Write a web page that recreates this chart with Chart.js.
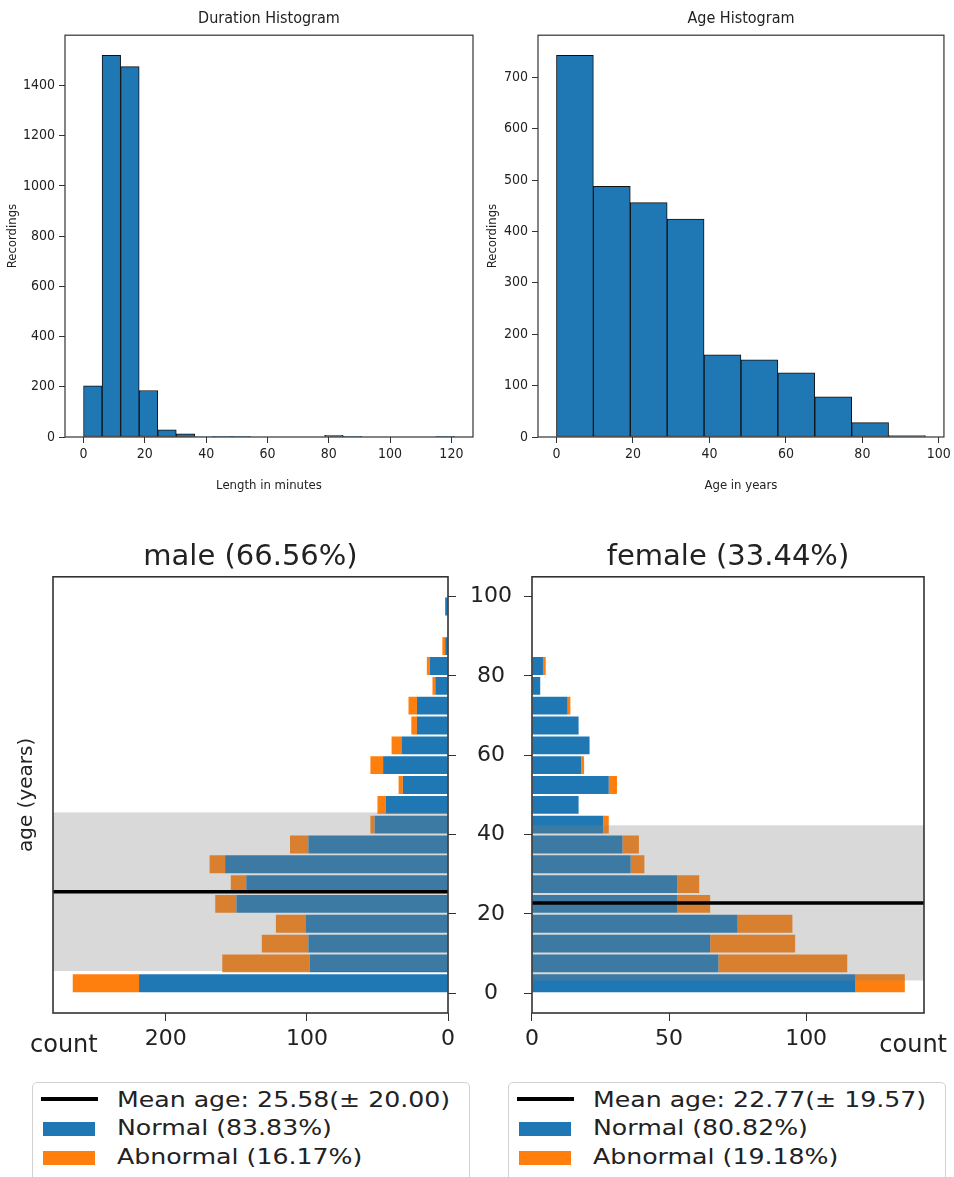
<!DOCTYPE html>
<html>
<head>
<meta charset="utf-8">
<script src="https://cdn.jsdelivr.net/npm/chart.js@4.4.1/dist/chart.umd.min.js"></script>
<style>
  html, body { margin: 0; padding: 0; background: #fff; }
  body { width: 954px; height: 1177px; position: relative; overflow: hidden; font-family: 'DejaVu Sans', sans-serif; }
  canvas { position: absolute; }
  .legend { position: absolute; top: 1082px; width: 438px; height: 110px; border: 1px solid #d2d2d2; border-radius: 5px; box-sizing: border-box; background: #fff; }
  .legend .sw { position: absolute; }
  .legend .sw.line { left: 8px; top: 14px; width: 57px; height: 4px; background: #000; }
  .legend .sw.normal { left: 10px; top: 39px; width: 52px; height: 14px; background: #1f77b4; }
  .legend .sw.abnormal { left: 10px; top: 68px; width: 52px; height: 14px; background: #ff7f0e; }
  .legend .txt { position: absolute; left: 84px; height: 26px; line-height: 26px; font-size: 21px; color: #222; white-space: nowrap; transform: scaleX(1.2); transform-origin: left center; }
</style>
</head>
<body>
<canvas id="durationChart" width="480" height="500" style="left:0px; top:0px"></canvas>
<canvas id="ageChart" width="474" height="500" style="left:480px; top:0px"></canvas>
<canvas id="maleChart" width="520" height="545" style="left:0px; top:530px"></canvas>
<canvas id="femaleChart" width="434" height="545" style="left:520px; top:530px"></canvas>
<div class="legend" id="maleLegend" style="left:32px"></div>
<div class="legend" id="femaleLegend" style="left:508px"></div>

<script>
// Histograma de duração (minutos) - borda esquerda de cada bin
const durationEdges = [0, 6.05, 12.1, 18.15, 24.2, 30.25, 36.3, 42.35, 48.4, 54.45, 60.5, 66.55, 72.6, 78.65, 84.7, 90.75, 96.8, 102.85, 108.9, 114.95];
const durationCounts = [204, 1520, 1475, 185, 29, 13, 2, 1, 1, 0, 0, 0, 0, 7, 1, 0, 0, 0, 0, 1];
const durationBinWidth = 6.05;
const durationXTicks = [0, 20, 40, 60, 80, 100, 120];
const durationYTicks = [0, 200, 400, 600, 800, 1000, 1200, 1400];

// Histograma de idade (anos)
const ageEdges = [0, 9.65, 19.3, 28.95, 38.6, 48.25, 57.9, 67.55, 77.2, 86.85];
const ageCounts = [743, 488, 456, 424, 160, 150, 125, 78, 28, 3];
const ageBinWidth = 9.65;
const ageXTicks = [0, 20, 40, 60, 80, 100];
const ageYTicks = [0, 100, 200, 300, 400, 500, 600, 700];

// Pirâmide etária: centro de cada faixa de 5 anos
const ageBands = [2.5, 7.5, 12.5, 17.5, 22.5, 27.5, 32.5, 37.5, 42.5, 47.5, 52.5, 57.5, 62.5, 67.5, 72.5, 77.5, 82.5, 87.5, 92.5, 97.5];
const maleNormal = [219, 98, 99, 101, 150, 143, 158, 99, 52, 44, 32, 46, 33, 22, 22, 9, 13, 2, 0, 2];
const maleAbnormal = [47, 62, 33, 21, 15, 11, 11, 13, 3, 6, 3, 9, 7, 4, 6, 2, 2, 2, 0, 0];
const femaleNormal = [118, 68, 65, 75, 53, 53, 36, 33, 26, 17, 28, 18, 21, 17, 13, 3, 4, 0, 0, 0];
const femaleAbnormal = [18, 47, 31, 20, 12, 8, 5, 6, 2, 0, 3, 1, 0, 0, 1, 0, 1, 0, 0, 0];
const pyramidYTicks = [0, 20, 40, 60, 80, 100];
const maleXTicks = [0, 100, 200];
const femaleXTicks = [0, 50, 100];

const maleStats = { mean: 25.58, std: 20.00 };
const femaleStats = { mean: 22.77, std: 19.57 };
const maleLegendLabels = ['Mean age: 25.58(± 20.00)', 'Normal (83.83%)', 'Abnormal (16.17%)'];
const femaleLegendLabels = ['Mean age: 22.77(± 19.57)', 'Normal (80.82%)', 'Abnormal (19.18%)'];

const BLUE = '#1f77b4';
const ORANGE = '#ff7f0e';
const INK = '#222';
const narrowFont = "'DejaVu Sans Condensed', 'Liberation Sans Narrow', 'DejaVu Sans', sans-serif";
const wideFont = "'DejaVu Sans', sans-serif";

Chart.defaults.animation = false;
Chart.defaults.color = INK;

// Moldura completa (as 4 bordas do eixo, estilo matplotlib)
const frame = {
    id: 'frame',
    afterDraw(chart, args, opts) {
        const a = chart.chartArea;
        const ctx = chart.ctx;
        ctx.save();
        ctx.strokeStyle = opts.color || '#333';
        ctx.lineWidth = opts.width || 1.2;
        ctx.strokeRect(a.left, a.top, a.right - a.left, a.bottom - a.top);
        ctx.restore();
    }
};

// Faixa de média ± desvio e linha da média
const meanBand = {
    id: 'meanBand',
    afterDatasetsDraw(chart, args, opts) {
        const { ctx, chartArea: a } = chart;
        const y = chart.scales.y;
        const top = y.getPixelForValue(opts.mean + opts.std);
        const bottom = y.getPixelForValue(opts.mean - opts.std);
        ctx.save();
        ctx.fillStyle = 'rgba(128, 128, 128, 0.3)';
        ctx.fillRect(a.left, top, a.right - a.left, bottom - top);
        const m = y.getPixelForValue(opts.mean);
        ctx.strokeStyle = '#000';
        ctx.lineWidth = 3.5;
        ctx.beginPath();
        ctx.moveTo(a.left, m);
        ctx.lineTo(a.right, m);
        ctx.stroke();
        ctx.restore();
    }
};

// Rótulo "count" abaixo do eixo x
const countLabel = {
    id: 'countLabel',
    afterDraw(chart, args, opts) {
        const { ctx, chartArea: a } = chart;
        ctx.save();
        ctx.font = '24px ' + wideFont;
        ctx.fillStyle = INK;
        ctx.textAlign = opts.align;
        ctx.textBaseline = 'alphabetic';
        const x = opts.align === 'left' ? a.left + opts.dx : a.right + opts.dx;
        ctx.fillText('count', x, a.bottom + opts.dy);
        ctx.restore();
    }
};

function fixedTicks(values) {
    return scale => { scale.ticks = values.map(v => ({ value: v })); };
}

const plainLabel = v => String(v);

function histogramChart(canvasId, title, xTitle, edges, width, counts, xTicks, yTicks, xMin, xMax, yMax, padRight, yWidth) {
    const ctx = document.getElementById(canvasId).getContext('2d');
    const histGrid = { display: true, drawOnChartArea: false, drawTicks: true, tickLength: 6, color: '#333', offset: false };
    return new Chart(ctx, {
        type: 'bar',
        data: {
            datasets: [{
                data: counts.map((c, i) => ({ x: edges[i] + width / 2, y: c })),
                backgroundColor: BLUE,
                borderColor: '#111',
                borderWidth: 1,
                borderSkipped: false,
                barPercentage: 1,
                categoryPercentage: 1
            }]
        },
        options: {
            responsive: false,
            devicePixelRatio: 1,
            layout: { padding: { right: padRight, top: 0, left: 0, bottom: 0 } },
            scales: {
                x: {
                    type: 'linear',
                    min: xMin,
                    max: xMax,
                    offset: false,
                    afterBuildTicks: fixedTicks(xTicks),
                    afterFit: s => { s.height = 63; },
                    grid: histGrid,
                    border: { display: false },
                    ticks: { font: { family: narrowFont, size: 14 }, color: INK, padding: 3, maxRotation: 0, callback: plainLabel },
                    title: { display: true, text: xTitle, font: { family: narrowFont, size: 13 }, color: INK, padding: { top: 0, bottom: 7 } }
                },
                y: {
                    min: 0,
                    max: yMax,
                    afterBuildTicks: fixedTicks(yTicks),
                    afterFit: s => { s.width = yWidth; },
                    grid: histGrid,
                    border: { display: false },
                    ticks: { font: { family: narrowFont, size: 14 }, color: INK, padding: 4, callback: plainLabel },
                    title: { display: true, text: 'Recordings', font: { family: narrowFont, size: 13 }, color: INK, padding: { top: 5, bottom: 0 } }
                }
            },
            plugins: {
                legend: { display: false },
                tooltip: { enabled: false },
                title: {
                    display: true,
                    text: title,
                    font: { family: narrowFont, size: 16, weight: 'normal' },
                    color: INK,
                    padding: { top: 9, bottom: 7 },
                    fullSize: false
                },
                frame: { color: '#333', width: 1.2 }
            }
        },
        plugins: [frame]
    });
}

histogramChart('durationChart', 'Duration Histogram', 'Length in minutes', durationEdges, durationBinWidth,
    durationCounts, durationXTicks, durationYTicks, -6.05, 127.05, 1600, 7, 65);
histogramChart('ageChart', 'Age Histogram', 'Age in years', ageEdges, ageBinWidth,
    ageCounts, ageXTicks, ageYTicks, -4.83, 101.33, 782, 8, 58);

function pyramidDatasets(normal, abnormal) {
    return [
        { label: 'Normal', data: normal.map((v, i) => ({ x: v, y: ageBands[i] })), backgroundColor: BLUE, borderWidth: 0, barPercentage: 0.9, categoryPercentage: 1 },
        { label: 'Abnormal', data: abnormal.map((v, i) => ({ x: v, y: ageBands[i] })), backgroundColor: ORANGE, borderWidth: 0, barPercentage: 0.9, categoryPercentage: 1 }
    ];
}

const tickFont = { family: wideFont, size: 22 };
const pyramidGrid = { display: true, drawOnChartArea: false, drawTicks: true, tickLength: 8, color: '#333', offset: false };

// Pirâmide masculina (eixo x invertido, idade à direita)
new Chart(document.getElementById('maleChart').getContext('2d'), {
    type: 'bar',
    data: { datasets: pyramidDatasets(maleNormal, maleAbnormal) },
    options: {
        indexAxis: 'y',
        responsive: false,
        devicePixelRatio: 1,
        layout: { padding: 0 },
        scales: {
            x: {
                type: 'linear',
                reverse: true,
                stacked: true,
                min: 0,
                max: 280,
                afterBuildTicks: fixedTicks(maleXTicks),
                afterFit: s => { s.height = 62; },
                grid: pyramidGrid,
                border: { display: false },
                ticks: { font: tickFont, color: INK, padding: 5, maxRotation: 0 }
            },
            y: {
                type: 'linear',
                position: 'right',
                stacked: true,
                min: -5,
                max: 105,
                offset: false,
                afterBuildTicks: fixedTicks(pyramidYTicks),
                afterFit: s => { s.width = 72; },
                grid: pyramidGrid,
                border: { display: false },
                ticks: { font: tickFont, color: INK, padding: 14, crossAlign: 'center' }
            },
            yl: {
                type: 'linear',
                position: 'left',
                min: -5,
                max: 105,
                afterFit: s => { s.width = 53; },
                grid: { display: false },
                border: { display: false },
                ticks: { display: false },
                title: { display: true, text: 'age (years)', font: { family: wideFont, size: 20 }, color: INK, padding: { top: 15, bottom: 0 } }
            }
        },
        plugins: {
            legend: { display: false },
            tooltip: { enabled: false },
            title: {
                display: true,
                text: 'male (66.56%)',
                font: { family: wideFont, size: 29, weight: 'normal' },
                color: INK,
                padding: { top: 10, bottom: 2 },
                fullSize: false
            },
            meanBand: maleStats,
            countLabel: { align: 'left', dx: -23, dy: 39 },
            frame: { color: '#333', width: 1.6 }
        }
    },
    plugins: [meanBand, countLabel, frame]
});

// Pirâmide feminina
new Chart(document.getElementById('femaleChart').getContext('2d'), {
    type: 'bar',
    data: { datasets: pyramidDatasets(femaleNormal, femaleAbnormal) },
    options: {
        indexAxis: 'y',
        responsive: false,
        devicePixelRatio: 1,
        layout: { padding: { right: 30, left: 0, top: 0, bottom: 0 } },
        scales: {
            x: {
                type: 'linear',
                stacked: true,
                min: 0,
                max: 143,
                afterBuildTicks: fixedTicks(femaleXTicks),
                afterFit: s => { s.height = 62; },
                grid: pyramidGrid,
                border: { display: false },
                ticks: { font: tickFont, color: INK, padding: 5, maxRotation: 0 }
            },
            y: {
                type: 'linear',
                position: 'left',
                stacked: true,
                min: -5,
                max: 105,
                offset: false,
                afterBuildTicks: fixedTicks(pyramidYTicks),
                afterFit: s => { s.width = 9; },
                grid: pyramidGrid,
                border: { display: false },
                ticks: { display: false }
            }
        },
        plugins: {
            legend: { display: false },
            tooltip: { enabled: false },
            title: {
                display: true,
                text: 'female (33.44%)',
                font: { family: wideFont, size: 29, weight: 'normal' },
                color: INK,
                padding: { top: 10, bottom: 2 },
                fullSize: false
            },
            meanBand: femaleStats,
            countLabel: { align: 'right', dx: 23, dy: 39 },
            frame: { color: '#333', width: 1.6 }
        }
    },
    plugins: [meanBand, countLabel, frame]
});

// Legendas no estilo matplotlib
function buildLegend(id, labels) {
    const box = document.getElementById(id);
    const kinds = ['line', 'normal', 'abnormal'];
    const rowTops = [4, 32, 61];
    labels.forEach((text, i) => {
        const sw = document.createElement('div');
        sw.className = 'sw ' + kinds[i];
        box.appendChild(sw);
        const t = document.createElement('span');
        t.className = 'txt';
        t.style.top = rowTops[i] + 'px';
        t.textContent = text;
        box.appendChild(t);
    });
}
buildLegend('maleLegend', maleLegendLabels);
buildLegend('femaleLegend', femaleLegendLabels);
</script>
</body>
</html>
